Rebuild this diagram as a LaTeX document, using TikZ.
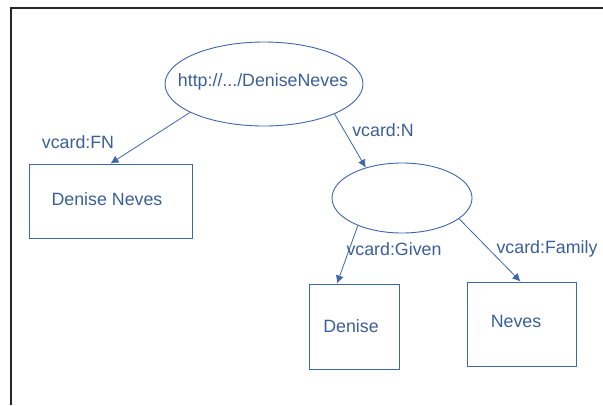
\documentclass[tikz,border=0pt]{standalone}
\usepackage{fontspec}
\setmainfont{Liberation Sans}
\usetikzlibrary{shapes.geometric,arrows.meta}
\definecolor{inkblue}{RGB}{58,95,152}
\definecolor{lineblue}{RGB}{62,102,168}
\tikzset{
  every node/.style={font=\fontsize{17.8}{20}\selectfont, text=inkblue, inner sep=0pt},
  res/.style={ellipse, draw=lineblue, line width=0.9pt},
  lit/.style={rectangle, draw=lineblue, line width=1pt},
  rel/.style={draw=lineblue, line width=0.8pt, -{Latex[length=8pt,width=8pt]}},
  lbl/.style={anchor=center},
}
\begin{document}
\begin{tikzpicture}[x=1pt,y=-1pt]
\useasboundingbox (0,0) rectangle (603,405);
% frame
\draw[black!85, line width=2pt] (11,405) -- (11,7.5) -- (603,7.5);

% resources (outline and caption kept apart so the caption may run wide)
\node[res, minimum width=198pt, minimum height=84pt] (e1) at (264,84) {};
\node (t1) at (263,82) {http://.../DeniseNeves};
\node[res, minimum width=140pt, minimum height=70pt] (e2) at (402,198) {};

% literals
\node[lit, minimum width=163pt, minimum height=74pt] (b1) at (110.5,201) {};
\node[lit, minimum width=90pt, minimum height=85pt] (b2) at (354,326.5) {};
\node[lit, minimum width=109pt, minimum height=84pt] (b3) at (521.5,324) {};
\node (t2) at (107,199) {Denise Neves};
\node (t3) at (351,326) {Denise};
\node (t4) at (516,321) {Neves};

% properties
\draw[rel] (e1.201) -- (b1.north);
\draw[rel] (e1.337) -- (e2.140);
\draw[rel] (e2.212) -- ([xshift=-17pt]b2.north);
\draw[rel] (e2.340) -- ([xshift=-1pt]b3.north);

\node[lbl] (l1) at (78,142) {vcard:FN};
\node[lbl] (l2) at (383,130) {vcard:N};
\node[lbl] (l3) at (394,249) {vcard:Given};
\node[lbl] (l4) at (547,249) {vcard:Family};
\end{tikzpicture}
\end{document}
